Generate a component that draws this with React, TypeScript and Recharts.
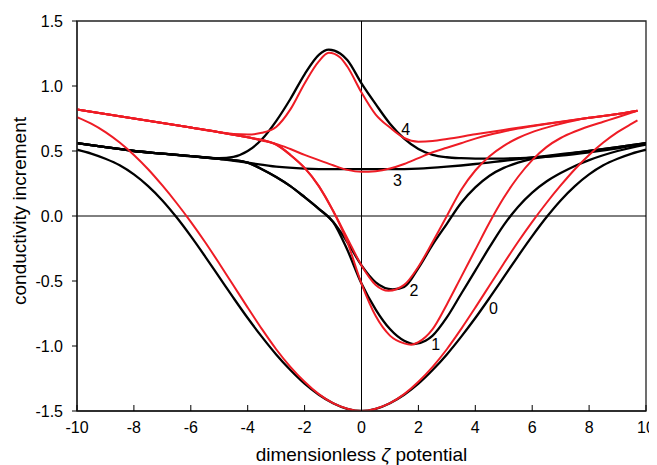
import React from 'react';
import { LineChart, Line, XAxis, YAxis, ReferenceLine, ReferenceArea, ReferenceDot } from 'recharts';

// ---- data ----
const xTicks = [-10, -8, -6, -4, -2, 0, 2, 4, 6, 8, 10];
const yTicks = [-1.5, -1.0, -0.5, 0, 0.5, 1.0, 1.5];

const black0X = [-10, -9.5, -9, -8.5, -8, -7.5, -7, -6.5, -6, -5.5, -5, -4.5, -4, -3.5, -3, -2.5, -2, -1.5, -1, -0.5, 0, 0.5, 1, 1.5, 2, 2.5, 3, 3.5, 4, 4.5, 5, 5.5, 6, 6.5, 7, 7.5, 8, 8.5, 9, 9.5, 10];
const black0Y = [0.51, 0.48, 0.44, 0.39, 0.32, 0.23, 0.12, -0.01, -0.155, -0.31, -0.47, -0.63, -0.785, -0.93, -1.065, -1.185, -1.29, -1.375, -1.44, -1.483, -1.5, -1.483, -1.44, -1.375, -1.29, -1.185, -1.065, -0.93, -0.785, -0.63, -0.47, -0.31, -0.155, -0.01, 0.12, 0.23, 0.32, 0.39, 0.44, 0.48, 0.51];

const black1X = [-10, -9, -8, -7, -6, -5, -4.5, -4, -3.5, -3, -2.5, -2, -1.5, -1, -0.5, 0, 0.5, 1, 1.5, 1.85, 2.25, 2.5, 3, 3.5, 4, 4.5, 5, 5.5, 6, 6.5, 7, 7.5, 8, 9, 10];
const black1Y = [0.56, 0.53, 0.5, 0.48, 0.46, 0.44, 0.43, 0.41, 0.36, 0.3, 0.23, 0.145, 0.055, -0.045, -0.26, -0.52, -0.72, -0.87, -0.96, -0.985, -0.96, -0.92, -0.78, -0.6, -0.42, -0.24, -0.07, 0.07, 0.18, 0.265, 0.33, 0.385, 0.43, 0.5, 0.55];

const black2X = [-10, -9, -8, -7, -6, -5, -4.5, -4, -3.5, -3, -2.5, -2, -1.5, -1, -0.5, 0, 0.5, 1.1, 1.5, 2, 2.5, 3, 3.5, 4, 4.5, 5, 5.5, 6, 7, 8, 9, 10];
const black2Y = [0.56, 0.53, 0.5, 0.48, 0.46, 0.44, 0.43, 0.41, 0.36, 0.3, 0.23, 0.145, 0.055, -0.045, -0.2, -0.38, -0.51, -0.564, -0.545, -0.4, -0.22, -0.06, 0.1, 0.22, 0.31, 0.37, 0.41, 0.44, 0.47, 0.5, 0.53, 0.56];

const black3X = [-10, -9, -8, -7, -6, -5, -4, -3, -2, -1, 0, 1, 2, 3, 4, 5, 6, 7, 8, 9, 10];
const black3Y = [0.56, 0.53, 0.5, 0.48, 0.46, 0.44, 0.41, 0.38, 0.365, 0.36, 0.36, 0.36, 0.365, 0.38, 0.4, 0.425, 0.45, 0.475, 0.5, 0.53, 0.56];

const black4X = [-10, -9, -8, -7, -6, -5, -4.5, -4, -3.5, -3, -2.5, -2, -1.5, -1.15, -0.75, -0.5, 0, 0.5, 1, 1.5, 2, 2.5, 3, 3.5, 4, 5, 6, 7, 8, 9, 10];
const black4Y = [0.56, 0.53, 0.5, 0.48, 0.46, 0.445, 0.455, 0.5, 0.59, 0.73, 0.9, 1.09, 1.24, 1.28, 1.25, 1.2, 1.02, 0.86, 0.71, 0.595, 0.515, 0.47, 0.452, 0.445, 0.442, 0.442, 0.448, 0.465, 0.49, 0.52, 0.56];

const red0X = [-10, -9.5, -9, -8.5, -8, -7.5, -7, -6.5, -6, -5.5, -5, -4.5, -4, -3.5, -3, -2.5, -2, -1.5, -1, -0.5, 0, 0.5, 1, 1.5, 2, 2.5, 3, 3.5, 4, 4.5, 5, 5.5, 6, 6.5, 7, 7.5, 8, 8.5, 9, 9.5, 9.7];
const red0Y = [0.76, 0.71, 0.645, 0.565, 0.47, 0.36, 0.235, 0.1, -0.045, -0.2, -0.365, -0.535, -0.705, -0.87, -1.025, -1.16, -1.275, -1.37, -1.44, -1.483, -1.5, -1.483, -1.44, -1.37, -1.275, -1.16, -1.025, -0.87, -0.705, -0.535, -0.365, -0.2, -0.045, 0.1, 0.235, 0.36, 0.47, 0.565, 0.645, 0.71, 0.735];

const red1X = [-10, -9, -8, -7, -6, -5, -4.5, -4, -3.5, -3, -2.5, -2, -1.5, -1, -0.5, 0, 0.5, 1, 1.5, 1.75, 2, 2.5, 3, 3.5, 4, 4.5, 5, 5.5, 6, 6.5, 7, 7.5, 8, 8.5, 9, 9.7];
const red1Y = [0.82, 0.785, 0.75, 0.715, 0.68, 0.645, 0.625, 0.605, 0.585, 0.55, 0.47, 0.37, 0.23, 0.04, -0.2, -0.52, -0.77, -0.92, -0.98, -0.99, -0.97, -0.87, -0.68, -0.47, -0.26, -0.05, 0.14, 0.3, 0.43, 0.53, 0.6, 0.65, 0.69, 0.725, 0.76, 0.81];

const red2X = [-10, -9, -8, -7, -6, -5, -4.5, -4, -3.5, -3, -2.5, -2, -1.5, -1, -0.5, 0, 0.5, 0.95, 1.5, 2, 2.5, 3, 3.5, 4, 4.5, 5, 5.5, 6, 6.5, 7, 7.5, 8, 9, 9.7];
const red2Y = [0.82, 0.785, 0.75, 0.715, 0.68, 0.645, 0.625, 0.605, 0.585, 0.55, 0.47, 0.37, 0.23, 0.04, -0.17, -0.38, -0.53, -0.575, -0.53, -0.39, -0.2, 0, 0.2, 0.35, 0.46, 0.54, 0.6, 0.645, 0.68, 0.71, 0.735, 0.755, 0.785, 0.81];

const red3X = [-10, -9, -8, -7, -6, -5, -4.5, -4, -3.5, -3, -2.5, -2, -1.5, -1, -0.5, 0, 0.5, 1, 1.5, 2, 2.5, 3, 3.5, 4, 4.5, 5, 5.5, 6, 6.5, 7, 8, 9, 9.7];
const red3Y = [0.82, 0.785, 0.75, 0.715, 0.68, 0.645, 0.625, 0.605, 0.58, 0.555, 0.515, 0.47, 0.43, 0.39, 0.355, 0.34, 0.345, 0.365, 0.4, 0.445, 0.49, 0.525, 0.56, 0.595, 0.625, 0.65, 0.672, 0.69, 0.708, 0.724, 0.755, 0.785, 0.81];

const red4X = [-10, -9, -8, -7, -6, -5, -4.5, -4, -3.5, -3, -2.5, -2, -1.5, -1.15, -0.75, -0.5, 0, 0.5, 1, 1.5, 2, 2.5, 3, 4, 5, 6, 7, 8, 9, 9.7];
const red4Y = [0.82, 0.785, 0.75, 0.715, 0.68, 0.645, 0.63, 0.627, 0.64, 0.685, 0.82, 1.02, 1.19, 1.256, 1.22, 1.15, 0.95, 0.78, 0.68, 0.6, 0.572, 0.577, 0.592, 0.628, 0.662, 0.695, 0.725, 0.755, 0.785, 0.81];

const curveLabels = ['0', '1', '2', '3', '4'];
const curveLabelX = [4.64, 2.61, 1.84, 1.26, 1.55];
const curveLabelY = [-0.71, -0.985, -0.575, 0.277, 0.667];

const zip = (xs: number[], ys: number[]) => xs.map((x, i) => ({ x, y: ys[i] }));

const blackSeries = [
  zip(black0X, black0Y),
  zip(black1X, black1Y),
  zip(black2X, black2Y),
  zip(black3X, black3Y),
  zip(black4X, black4Y),
];
const redSeries = [
  zip(red0X, red0Y),
  zip(red1X, red1Y),
  zip(red2X, red2Y),
  zip(red3X, red3Y),
  zip(red4X, red4Y),
];

const RED = '#ee1c25';
const FONT = '"Liberation Sans", Arial, sans-serif';

const XTick = (props: any) => {
  const { x, y, payload } = props;
  return (
    <g>
      <line x1={x} y1={y} x2={x} y2={y - 6} stroke="#000" strokeWidth={1} />
      <text x={x} y={y + 22} textAnchor="middle" fontSize={16} fill="#000" fontFamily={FONT}>
        {payload.value}
      </text>
    </g>
  );
};

const XTitle = (props: any) => {
  const vb = props.viewBox || {};
  return (
    <text x={vb.x + vb.width / 2} y={vb.y + 50} textAnchor="middle" fontSize={19} fill="#000" fontFamily={FONT}>
      dimensionless <tspan fontStyle="italic">ζ</tspan> potential
    </text>
  );
};

const YTitle = (props: any) => {
  const vb = props.viewBox || {};
  const cx = vb.x + 18;
  const cy = vb.y + vb.height / 2 - 5;
  return (
    <text x={cx} y={cy} transform={`rotate(-90, ${cx}, ${cy})`} textAnchor="middle" fontSize={19} fill="#000" fontFamily={FONT}>
      conductivity increment
    </text>
  );
};

export default function App() {
  return (
    <LineChart
      width={649}
      height={457}
      margin={{ top: 13, right: 11, bottom: 0, left: 0 }}
      style={{ fontFamily: FONT }}
    >
      <XAxis
        dataKey="x"
        type="number"
        domain={[-10, 10]}
        ticks={xTicks}
        allowDataOverflow
        height={54}
        tickSize={0}
        tickMargin={0}
        tickLine={false}
        axisLine={{ stroke: '#222', strokeWidth: 1.3 }}
        tick={<XTick />}
        label={<XTitle />}
      />
      <YAxis
        dataKey="y"
        type="number"
        domain={[-1.5, 1.5]}
        ticks={yTicks}
        allowDataOverflow
        width={69}
        tickSize={5}
        tickMargin={9}
        tickLine={{ stroke: '#000', strokeWidth: 1 }}
        axisLine={{ stroke: '#222', strokeWidth: 1.3 }}
        tick={{ fontSize: 16, fill: '#000', fontFamily: FONT }}
        tickFormatter={(v: number) => v.toFixed(1)}
        label={<YTitle />}
      />
      <ReferenceArea x1={-10} x2={10} y1={-1.5} y2={1.5} fill="none" stroke="#222" strokeWidth={1.3} />
      <ReferenceLine x={0} stroke="#000" strokeWidth={1} />
      <ReferenceLine y={0} stroke="#000" strokeWidth={1} />
      {blackSeries.map((d, i) => (
        <Line
          key={'b' + i}
          data={d}
          dataKey="y"
          type="monotone"
          stroke="#000"
          strokeWidth={2.3}
          dot={false}
          activeDot={false}
          isAnimationActive={false}
        />
      ))}
      {redSeries.map((d, i) => (
        <Line
          key={'r' + i}
          data={d}
          dataKey="y"
          type="monotone"
          stroke={RED}
          strokeWidth={2}
          dot={false}
          activeDot={false}
          isAnimationActive={false}
        />
      ))}
      {curveLabels.map((t, i) => (
        <ReferenceDot
          key={'l' + i}
          x={curveLabelX[i]}
          y={curveLabelY[i]}
          r={1}
          fill="none"
          stroke="none"
          label={{ value: t, position: 'center', fontSize: 16, fill: '#000', fontFamily: FONT }}
        />
      ))}
    </LineChart>
  );
}
